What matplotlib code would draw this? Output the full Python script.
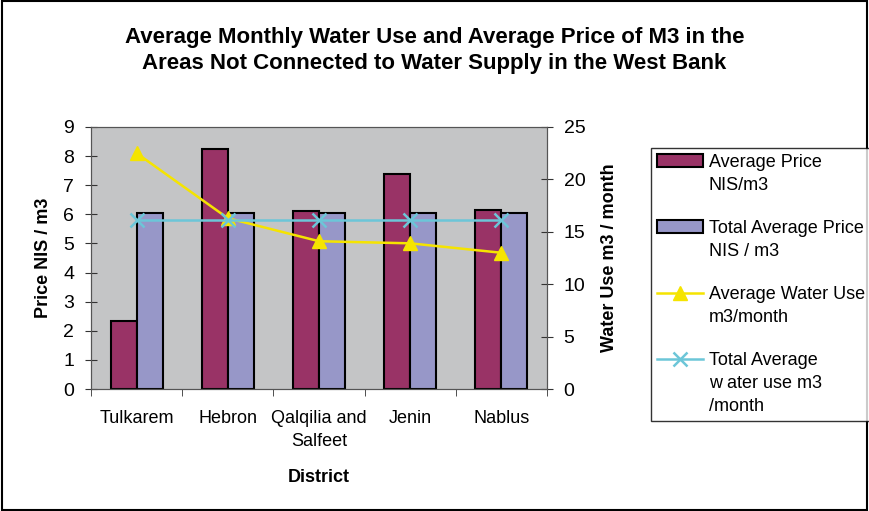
import matplotlib
matplotlib.use("Agg")
import matplotlib.pyplot as plt
import numpy as np
from matplotlib.patches import Rectangle

plt.rcParams['font.family'] = ['Liberation Sans', 'DejaVu Sans']

districts = ["Tulkarem", "Hebron", "Qalqilia and\nSalfeet", "Jenin", "Nablus"]
avg_price = [2.35, 8.25, 6.12, 7.4, 6.15]
total_avg_price = [6.05, 6.05, 6.05, 6.05, 6.05]
avg_water_use = [22.5, 16.3, 14.1, 13.9, 13.0]
total_avg_water_use = [16.1, 16.1, 16.1, 16.1, 16.1]

fig = plt.figure(figsize=(8.69, 5.11), dpi=100)
fig.patch.set_facecolor('white')
fig.add_artist(Rectangle((0.002, 0.002), 0.996, 0.996, transform=fig.transFigure,
                         fill=False, edgecolor='black', linewidth=1.5))

ax = fig.add_axes([0.1047, 0.2387, 0.5248, 0.5128])
ax.set_facecolor('#c4c5c6')
x = np.arange(len(districts))
w = 0.285
b1 = ax.bar(x - w/2, avg_price, w, color='#993366', edgecolor='black', linewidth=1.5,
            label='Average Price\nNIS/m3', zorder=2)
b2 = ax.bar(x + w/2, total_avg_price, w, color='#9797c8', edgecolor='black', linewidth=1.5,
            label='Total Average Price\nNIS / m3', zorder=2)
ax.set_xlim(-0.5, len(districts) - 0.5)
ax.set_ylim(0, 9)
ax.set_yticks(range(0, 10))
ax.set_xticks(x)
ax.set_xticklabels(districts, fontsize=13, linespacing=1.45)
ax.set_xticks(np.arange(-0.5, len(districts)), minor=True)
ax.tick_params(axis='x', which='major', length=0, pad=15)
ax.tick_params(axis='x', which='minor', length=5, direction='out', color='#333333')
ax.tick_params(axis='y', labelsize=14, direction='inout', length=8, pad=8, color='#333333')
ax.set_ylabel('Price NIS / m3', fontsize=13, fontweight='bold', labelpad=8)
ax.set_xlabel('District', fontsize=13, fontweight='bold', labelpad=14)
for s in ax.spines.values():
    s.set_color('#555555')

ax2 = ax.twinx()
l1, = ax2.plot(x, avg_water_use, color='#f5e400', marker='^', markersize=10, linewidth=1.8,
               label='Average Water Use\nm3/month', zorder=3)
l2, = ax2.plot(x, total_avg_water_use, color='#6cc6d8', marker='x', markersize=10,
               markeredgewidth=1.8, linewidth=1.8, label='Total Average\nw ater use m3\n/month', zorder=3)
ax2.set_ylim(0, 25)
ax2.set_yticks(range(0, 26, 5))
ax2.tick_params(axis='y', labelsize=14, direction='inout', length=8, pad=8, color='#333333')
ax2.set_ylabel('Water Use m3 / month', fontsize=13, fontweight='bold', labelpad=11)
for s in ax2.spines.values():
    s.set_color('#555555')

fig.suptitle('Average Monthly Water Use and Average Price of M3 in the\n'
             'Areas Not Connected to Water Supply in the West Bank',
             fontsize=16, fontweight='bold', y=1 - 50.5/511, va='center', linespacing=1.25)

leg = fig.legend(handles=[b1, b2, l1, l2], loc='upper left',
                 bbox_to_anchor=(0.749, 0.7104), fontsize=13, frameon=True,
                 fancybox=False, edgecolor='black', labelspacing=1.45,
                 handlelength=2.55, handletextpad=0.3, borderaxespad=0.0, borderpad=0.35)
leg.get_frame().set_linewidth(1.0)
for t in leg.get_texts():
    t.set_linespacing(1.45)
    t.set_multialignment('left')
for col in leg._legend_handle_box.get_children():
    for hp in col.get_children():
        hp.align = 'top'

fig.savefig('out.png', dpi=100)
